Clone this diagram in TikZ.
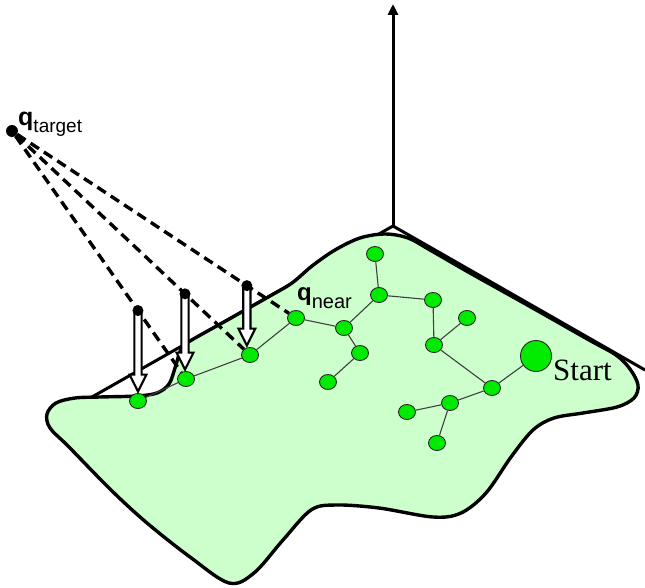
\documentclass[tikz,border=0pt]{standalone}
\usepackage{fontspec}
\setmainfont{Liberation Serif}
\newfontfamily\arialf{Liberation Sans}
\usetikzlibrary{calc,shapes.geometric,arrows.meta}
\definecolor{blobgreen}{RGB}{204,255,204}
\definecolor{nodegreen}{RGB}{0,235,0}
\newcommand\hollowarrow[2]{%
  \coordinate (#1tip) at ($(#1 |- #2.north)+(0,-1.5)$);
  \draw[hollow] ($(#1)+(-3.6,0)$) -- ($(#1tip)+(-3.6,-17)$) -- ($(#1tip)+(-8.5,-17)$)
    -- (#1tip) -- ($(#1tip)+(8.5,-17)$) -- ($(#1tip)+(3.6,-17)$) -- ($(#1)+(3.6,0)$) -- cycle;}
\begin{document}
\begin{tikzpicture}[x=1pt,y=-1pt,
  treenode/.style={ellipse, draw=black!85, line width=0.9pt, fill=nodegreen,
    minimum width=17pt, minimum height=15pt, inner sep=0pt},
  startnode/.style={circle, draw=black!85, line width=0.9pt, fill=nodegreen,
    minimum size=31pt, inner sep=0pt},
  treeedge/.style={draw=black!75, line width=1.1pt},
  axisline/.style={line width=3pt, black},
  dashline/.style={line width=3.4pt, dash pattern=on 10pt off 6pt},
  blackdot/.style={circle, fill=black, inner sep=0pt, minimum size=11pt},
  hollow/.style={draw=black, fill=white, line width=2.1pt, line join=miter},
  blob/.style={fill=blobgreen, draw=black, line width=3.4pt}
]
\useasboundingbox (0,0) rectangle (645,588);

% axes
\coordinate (O) at (393,226);
\coordinate (ytip) at (393,4);
\coordinate (xl) at (92,397);
\coordinate (xr) at (645,370);
\draw[axisline, -{Triangle[length=11pt,width=10pt]}] (O) -- (ytip);
\draw[axisline] (xl) -- (O) -- (xr);

% free space region
\draw[blob] plot[smooth cycle, tension=0.55] coordinates {
  (47,414) (56,403) (75,398) (100,397) (136,396) (157,393) (169,384) (175,368)
  (180,352) (186,343.5) (230,318.6) (270,296) (292,283) (312,266) (335,250)
  (360,238) (385,234) (408,238) (430,250) (470,273) (530,306.5) (590,340.5)
  (616,355) (630,369) (638,385) (634,398) (617,407) (583,413) (554,418)
  (533,430) (511,457) (486,493) (461,513) (433,517) (379,508) (336,505)
  (311,510) (283,540) (254,573) (229,583) (190,557) (147,523) (111,490)
  (69,447) (50,428)};

% tree nodes
\node[treenode] (qn) at (296,318) {};
\node[treenode] (n6) at (344,328) {};
\node[treenode] (n2) at (379,295) {};
\node[treenode] (n1) at (375,254) {};
\node[treenode] (n3) at (433,300) {};
\node[treenode] (n5) at (434,345) {};
\node[treenode] (n4) at (467,318) {};
\node[treenode] (n9) at (492,388) {};
\node[startnode] (st) at (536,356) {};
\node[treenode] (n10) at (450,403) {};
\node[treenode] (n11) at (407,412) {};
\node[treenode] (n12) at (437,443) {};
\node[treenode] (n7) at (360,353) {};
\node[treenode] (n8) at (328,382) {};
\node[treenode] (a) at (250,355) {};
\node[treenode] (b) at (186,379) {};
\node[treenode] (c) at (138,401) {};

% tree edges
\draw[treeedge] (qn) -- (n6) (n6) -- (n2) (n2) -- (n1) (n2) -- (n3) (n3) -- (n5)
  (n5) -- (n4) (n5) -- (n9) (n9) -- (st) (n9) -- (n10) (n10) -- (n11)
  (n10) -- (n12) (n6) -- (n7) (n7) -- (n8) (qn) -- (a) (a) -- (b) (b) -- (c);

% target and dashed lines
\node[blackdot, minimum size=12pt] (qt) at (12,131) {};
\draw[dashline] (qt) -- (b);
\draw[dashline] (qt) -- (a);
\draw[dashline] (qt) -- (qn);

% new points and hollow arrows
\coordinate (p1) at ($(qt)!0.724!(b)$);
\coordinate (p2) at ($(qt)!0.727!(a)$);
\coordinate (p3) at ($(qt)!0.827!(qn)$);
\hollowarrow{p1}{c}
\hollowarrow{p2}{b}
\hollowarrow{p3}{a}
\node[blackdot] (d1) at (p1) {};
\node[blackdot] (d2) at (p2) {};
\node[blackdot] (d3) at (p3) {};

% labels
\node[anchor=base west, inner sep=0pt, font=\arialf] (lt) at (18,126)
  {{\fontsize{25}{25}\selectfont\bfseries q}{\fontsize{19}{19}\selectfont\raisebox{-7pt}{target}}};
\node[anchor=base west, inner sep=0pt, font=\arialf] (ln) at (297,300)
  {{\fontsize{24}{24}\selectfont\bfseries q}{\fontsize{20}{20}\selectfont\raisebox{-8pt}{near}}};
\node[anchor=base west, inner sep=0pt, font=\fontsize{31}{31}\selectfont] (ls) at (553,380) {Start};
\end{tikzpicture}
\end{document}
